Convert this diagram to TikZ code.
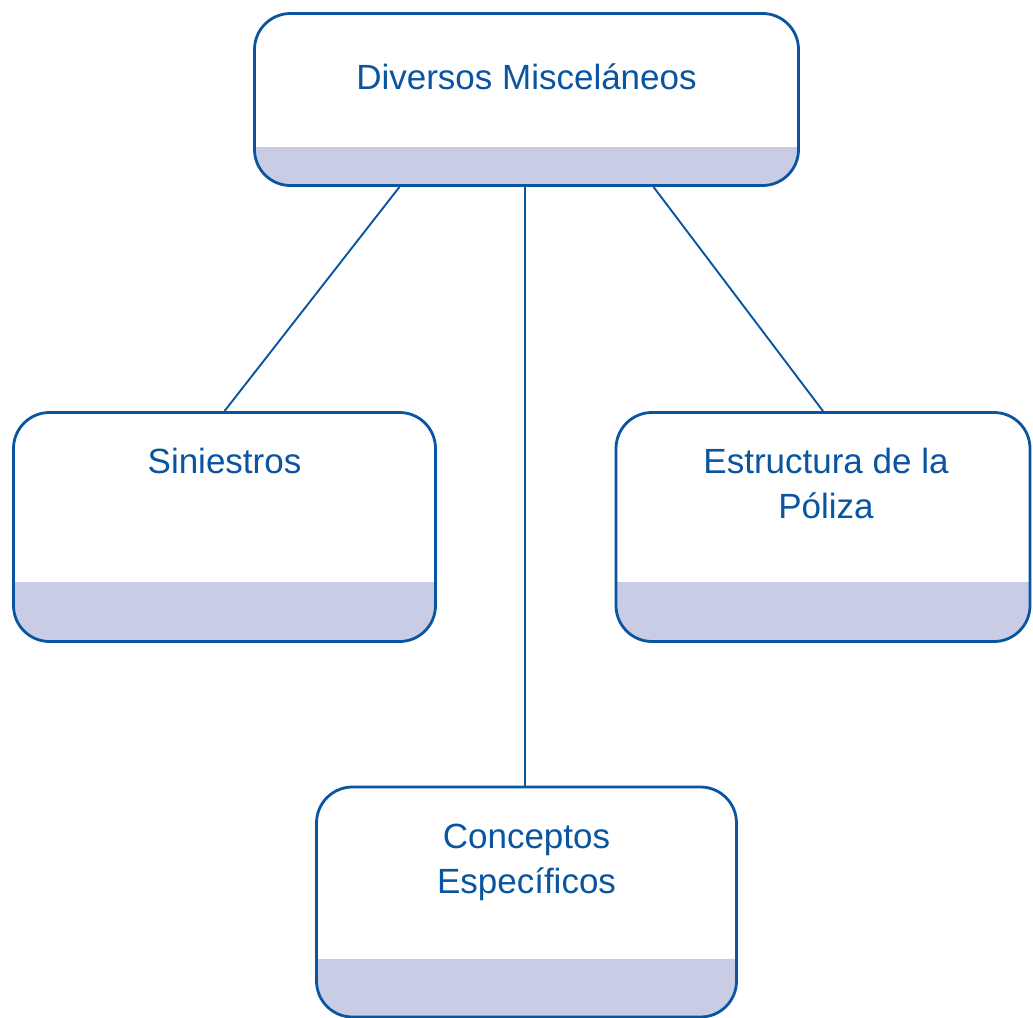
\documentclass[tikz,border=0pt]{standalone}
\usepackage{fontspec}
\setmainfont{Liberation Sans}
\definecolor{dblue}{HTML}{0A55A0}
\definecolor{bandfill}{HTML}{C8CDE5}
\begin{document}
\begin{tikzpicture}[x=1pt,y=-1pt,
  card/.style n args={3}{draw=dblue, line width=2.8pt, rounded corners=36pt,
    fill=white, inner sep=0pt, minimum width=#1, minimum height=#2,
    path picture={\fill[bandfill, sharp corners] (path picture bounding box.south west)
      rectangle ([yshift=#3]path picture bounding box.south east);}},
  label/.style={text=dblue, font=\fontsize{35}{45}\selectfont, align=center, inner sep=0pt, anchor=base},
  link/.style={draw=dblue, line width=1.9pt}]
\useasboundingbox (0,0) rectangle (1033,1017);

% boxes
\node[card={544pt}{172pt}{39pt}] (top) at (526.5,99.5) {};
\node[card={422pt}{229pt}{60pt}] (left) at (224.5,527) {};
\node[card={414pt}{229pt}{60pt}] (right) at (823,527) {};
\node[card={420pt}{230pt}{58pt}] (bottom) at (526.5,902) {};

% labels (base anchor sits on the last line)
\node[label] (ttop) at (526.5,89) {Diversos Misceláneos};
\node[label] (tleft) at (224.5,473) {Siniestros};
\node[label] (tright) at (826,518) {Estructura de la\\Póliza};
\node[label] (tbottom) at (526.5,893) {Conceptos\\Específicos};

% connectors
\draw[link] ([xshift=-127pt]top.south) -- (left.north);
\draw[link] ([xshift=-1.5pt]top.south) -- ([xshift=-1.5pt]bottom.north);
\draw[link] ([xshift=127pt]top.south) -- (right.north);
\end{tikzpicture}
\end{document}
